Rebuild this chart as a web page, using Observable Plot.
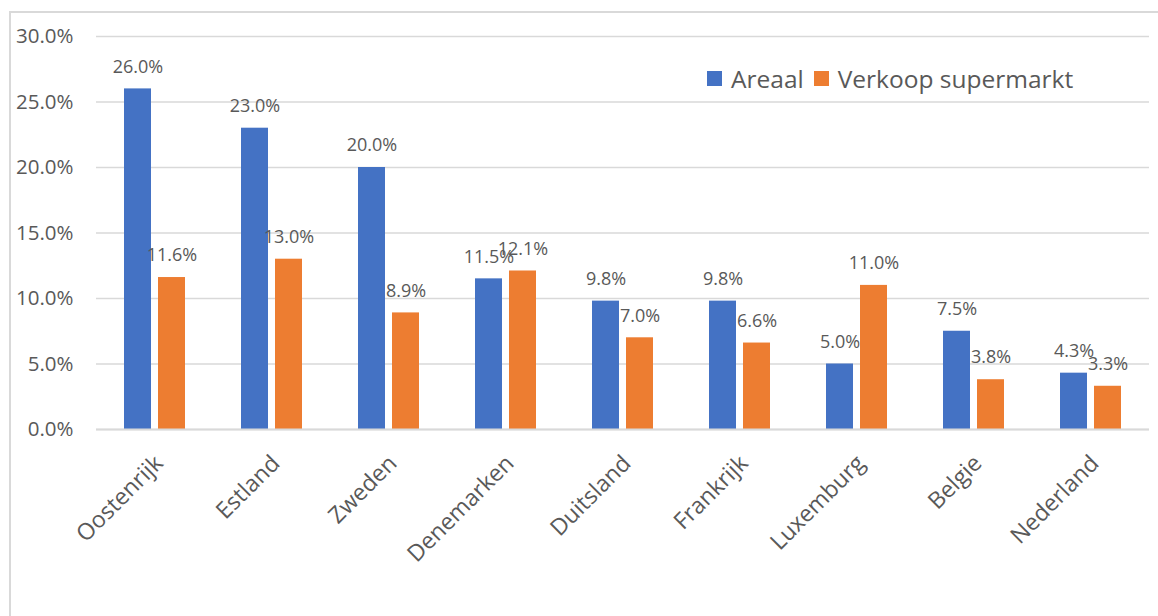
<!DOCTYPE html>
<html>
<head>
<meta charset="utf-8">
<script src="https://cdn.jsdelivr.net/npm/d3@7"></script>
<script src="https://cdn.jsdelivr.net/npm/@observablehq/plot@0.6"></script>
<style>
  html, body { margin: 0; padding: 0; background: #fff; overflow: hidden; }
  body { width: 1158px; height: 616px; position: relative; font-family: "Open Sans", sans-serif; }
  #frame { position: absolute; left: 9px; top: 11px; width: 1200px; height: 700px; border: 2px solid #d9d9d9; box-sizing: border-box; }
  #chart { position: absolute; left: 0; top: 0; }
  #legend { position: absolute; left: 707px; top: 62px; display: flex; align-items: center; font-size: 24.5px; color: #595959; white-space: nowrap; }
  #legend .sw { display: inline-block; width: 15px; height: 15px; margin-right: 9px; }
  #legend .item { display: flex; align-items: center; margin-right: 10px; }
</style>
</head>
<body>
<div id="frame"></div>
<div id="chart"></div>
<div id="legend"></div>
<script>
const countries = ["Oostenrijk", "Estland", "Zweden", "Denemarken", "Duitsland", "Frankrijk", "Luxemburg", "Belgie", "Nederland"];
const series = ["Areaal", "Verkoop supermarkt"];
const areaal = [26.0, 23.0, 20.0, 11.5, 9.8, 9.8, 5.0, 7.5, 4.3];
const verkoop = [11.6, 13.0, 8.9, 12.1, 7.0, 6.6, 11.0, 3.8, 3.3];
const colors = ["#4472C4", "#ED7D31"];
const yTicks = [0, 5, 10, 15, 20, 25, 30];

const data = [];
countries.forEach((c, i) => {
  data.push({country: c, series: series[0], value: areaal[i]});
  data.push({country: c, series: series[1], value: verkoop[i]});
});

const fmt = d => d.toFixed(1) + "%";
const textColor = "#595959";

const chart = Plot.plot({
  width: 1158,
  height: 616,
  marginLeft: 96,
  marginRight: 9,
  marginTop: 36,
  marginBottom: 187,
  style: {fontFamily: "'Open Sans', sans-serif", color: textColor, background: "transparent"},
  fx: {domain: countries, padding: 0},
  x: {domain: series, paddingInner: 0.2, paddingOuter: 0.8, axis: null},
  y: {domain: [0, 30]},
  color: {domain: series, range: colors},
  marks: [
    Plot.gridY(yTicks, {stroke: "#d9d9d9", strokeOpacity: 1, strokeWidth: 1.5}),
    Plot.axisY(yTicks, {tickSize: 0, tickPadding: 23, tickFormat: fmt, fontSize: 20.5, fill: textColor, label: null}),
    Plot.axisFx({anchor: "bottom", tickSize: 0, tickPadding: 30, dx: 4, tickRotate: -45, fontSize: 23, fill: textColor, label: null}),
    Plot.barY(data, {fx: "country", x: "series", y: "value", fill: "series"}),
    Plot.ruleY([0], {stroke: "#d9d9d9", strokeWidth: 2}),
    Plot.text(data, {fx: "country", x: "series", y: "value", text: d => fmt(d.value), dy: -22, lineAnchor: "middle", textAnchor: "middle", fontSize: 18, fill: textColor})
  ]
});
document.getElementById("chart").appendChild(chart);

const legend = document.getElementById("legend");
series.forEach((s, i) => {
  const item = document.createElement("span");
  item.className = "item";
  const sw = document.createElement("span");
  sw.className = "sw";
  sw.style.background = colors[i];
  item.appendChild(sw);
  item.appendChild(document.createTextNode(s));
  legend.appendChild(item);
});
</script>
</body>
</html>
